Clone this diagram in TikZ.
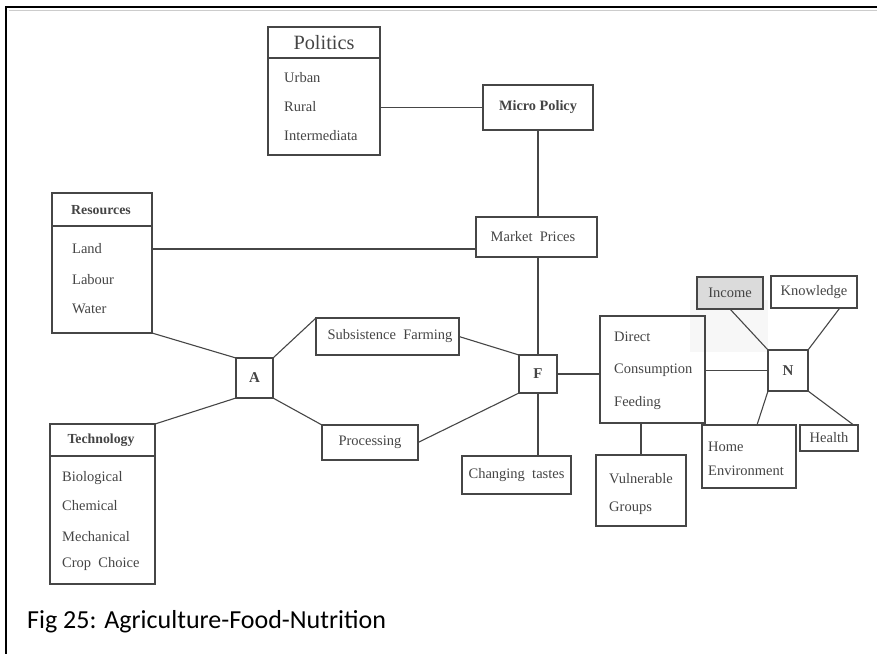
\documentclass[tikz,border=0pt]{standalone}
\usepackage{fontspec}
\setmainfont{Liberation Serif}
\newfontfamily\capfont{Carlito}
\usetikzlibrary{calc}
\definecolor{ink}{HTML}{464646}
\definecolor{txt}{HTML}{444444}
\tikzset{
  box/.style={draw=ink, line width=1.1pt, inner sep=0pt, outer sep=0pt, rectangle},
  link/.style={draw=ink, line width=1.1pt},
  lbl/.style={text=txt, inner sep=0pt, font=\fontsize{14.5}{16}\selectfont},
  item/.style={lbl, anchor=west},
  head/.style={lbl, font=\fontsize{13.8}{15}\selectfont\bfseries},
  letter/.style={lbl, font=\fontsize{15}{17}\selectfont\bfseries}
}
\begin{document}
\begin{tikzpicture}[x=1pt,y=-1pt]
\useasboundingbox (0,0) rectangle (877,654);
% frame
\draw[line width=2.4pt] (877,7) -- (6,7) -- (6,654);
\draw[gray!40, line width=0.6pt] (9,10) -- (877,10);

% faint scan haze near the nutrition cluster
\fill[gray!6] (690,300) rectangle (768,352);

% Politics
\node[box, minimum width=112pt, minimum height=128pt] (pol) at (324,91) {};
\draw[link] (268,58) -- (380,58);
\node[lbl, font=\fontsize{20.3}{22}\selectfont] (polh) at (324,43) {Politics};
\node[item] (pol1) at (284,78) {Urban};
\node[item] (pol2) at (284,107) {Rural};
\node[item] (pol3) at (284,136) {Intermediata};

\node[box, minimum width=110pt, minimum height=45pt] (micro) at (538,107.5) {};
\node[lbl, font=\fontsize{14.3}{16}\selectfont\bfseries] (microt) at (538,107.5) {Micro Policy};

\node[box, minimum width=121pt, minimum height=40pt] (market) at (536.5,237) {};
\node[lbl] (markett) at (533,237) {Market\ \ Prices};

% Resources
\node[box, minimum width=100pt, minimum height=140pt] (res) at (102,263) {};
\draw[link] (52,226) -- (152,226);
\node[head] (resh) at (101,210) {Resources};
\node[item] (res1) at (72,249) {Land};
\node[item] (res2) at (72,280) {Labour};
\node[item] (res3) at (72,309) {Water};

% Technology
\node[box, minimum width=105pt, minimum height=160pt] (tech) at (102.5,504) {};
\draw[link] (50,456) -- (155,456);
\node[head] (techh) at (101,440) {Technology};
\node[item] (tech1) at (62,478) {Biological};
\node[item] (tech2) at (62,506) {Chemical};
\node[item] (tech3) at (62,537) {Mechanical};
\node[item] (tech4) at (62,564) {Crop\ \ Choice};

% hubs
\node[box, minimum width=37pt, minimum height=40pt] (A) at (254.5,378) {};
\node[letter] (At) at (254.5,378) {A};
\node[box, minimum width=38pt, minimum height=38pt] (F) at (538,374) {};
\node[letter] (Ft) at (538,374) {F};
\node[box, minimum width=40pt, minimum height=41pt] (N) at (788,370.5) {};
\node[letter] (Nt) at (788,370.5) {N};

\node[box, minimum width=143pt, minimum height=37pt] (subs) at (387.5,336.5) {};
\node[lbl] (subst) at (390,336.5) {Subsistence\ \ Farming};
\node[box, minimum width=96pt, minimum height=35pt] (proc) at (370,442.5) {};
\node[lbl] (proct) at (370,442.5) {Processing};
\node[box, minimum width=109pt, minimum height=38pt] (taste) at (516.5,475) {};
\node[lbl] (tastet) at (516.5,475) {Changing\ \ tastes};

% consumption side
\node[box, minimum width=105pt, minimum height=107pt] (dcf) at (652.5,369.5) {};
\node[item] (dcf1) at (614,337) {Direct};
\node[item] (dcf2) at (614,370) {Consumption};
\node[item] (dcf3) at (614,403) {Feeding};
\node[box, minimum width=90pt, minimum height=71pt] (vuln) at (641,490.5) {};
\node[item] (vuln1) at (609,479) {Vulnerable};
\node[item] (vuln2) at (609,508) {Groups};

% nutrition factors
\node[box, fill=gray!28, minimum width=66pt, minimum height=32pt] (inc) at (730,293) {};
\node[lbl] (inct) at (730,293) {Income};
\node[box, minimum width=86pt, minimum height=32pt] (know) at (814,292) {};
\node[lbl] (knowt) at (814,292) {Knowledge};
\node[box, minimum width=94pt, minimum height=63pt] (home) at (749,456.5) {};
\node[item] (home1) at (708,447) {Home};
\node[item] (home2) at (708,471) {Environment};
\node[box, minimum width=58pt, minimum height=26pt] (health) at (829,438) {};
\node[lbl] (healtht) at (829,438) {Health};

% connectors
\coordinate (rm) at (0,249);
\draw[link] (micro.west -| pol.east) -- (micro.west);
\draw[link] (micro.south -| F.north) -- (market.north -| F.north);
\draw[link] (res.east |- rm) -- (market.west |- rm);
\draw[link] (market.south -| F.north) -- (F.north);
\draw[link] (res.south east) -- (A.north west);
\draw[link] (A.north east) -- (subs.north west);
\draw[link] (subs.east) -- (F.north west);
\draw[link] (A.south east) -- (proc.north west);
\draw[link] (proc.east) -- (F.south west);
\draw[link] (A.south west) -- (tech.north east);
\draw[link] (F.south) -- (F.south |- taste.north);
\draw[link] (F.east) -- (F.east -| dcf.west);
\draw[link] (vuln.north |- dcf.south) -- (vuln.north);
\draw[link] (N.west -| dcf.east) -- (N.west);
\draw[link] (inc.south) -- (N.north west);
\draw[link] ($(know.south)!0.6!(know.south east)$) -- (N.north east);
\draw[link] (N.south west) -- ($(home.north)!0.17!(home.north east)$);
\draw[link] (N.south east) -- ($(health.north)!0.85!(health.north east)$);

% caption
\node[anchor=base west, inner sep=0pt, font=\capfont\fontsize{26}{30}\selectfont] (cap) at (27,628) {Fig 25: Agriculture-Food-Nutrition};
\end{tikzpicture}
\end{document}
